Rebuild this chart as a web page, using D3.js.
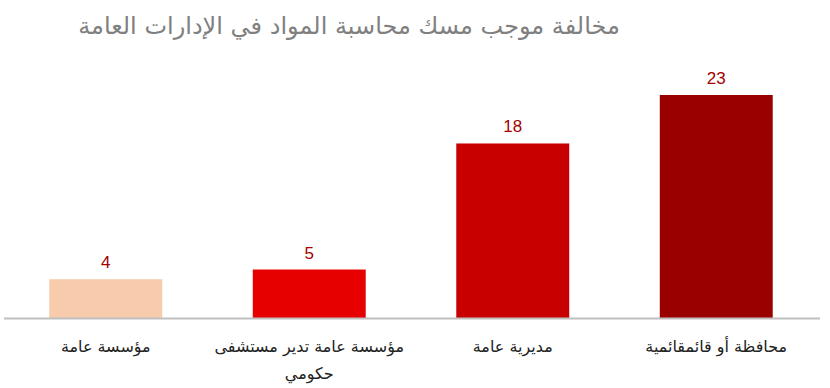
<!DOCTYPE html>
<html>
<head>
<meta charset="utf-8">
<script src="https://cdn.jsdelivr.net/npm/d3@7"></script>
<style>
  body { margin: 0; background: #fff; }
  svg { display: block; }
</style>
</head>
<body>
<svg id="chart" width="830" height="388"></svg>
<script>
let title = "مخالفة موجب مسك محاسبة المواد في الإدارات العامة"
let categories = ["مؤسسة عامة", "مؤسسة عامة تدير مستشفى حكومي", "مديرية عامة", "محافظة أو قائمقائمية"]
let labelLines = [["مؤسسة عامة"], ["مؤسسة عامة تدير مستشفى", "حكومي"], ["مديرية عامة"], ["محافظة أو قائمقائمية"]]
let values = [4, 5, 18, 23]
let colors = ["#F8CBAD", "#E60000", "#C80000", "#9A0000"]

let svg = d3.select("#chart")
let baseY = 318

let x = d3.scaleBand().domain(categories).range([4, 818]).paddingInner(0.445).paddingOuter(0.2225)
let y = d3.scaleLinear().domain([0, 23]).range([baseY, 95])

svg.append("text")
  .attr("x", 349).attr("y", 34)
  .attr("text-anchor", "middle")
  .attr("direction", "rtl")
  .style("font-family", "DejaVu Sans, sans-serif")
  .style("font-size", "24px")
  .style("fill", "#808080")
  .text(title)

let data = categories.map((c, i) => ({ name: c, value: values[i], color: colors[i], lines: labelLines[i] }))

svg.selectAll("rect.bar").data(data).enter().append("rect")
  .attr("class", "bar")
  .attr("x", d => x(d.name))
  .attr("y", d => y(d.value))
  .attr("width", x.bandwidth())
  .attr("height", d => baseY - y(d.value))
  .style("fill", d => d.color)

svg.selectAll("text.val").data(data).enter().append("text")
  .attr("class", "val")
  .attr("x", d => x(d.name) + x.bandwidth() / 2)
  .attr("y", d => y(d.value) - 11)
  .attr("text-anchor", "middle")
  .style("font-family", "Liberation Sans, Arial, sans-serif")
  .style("font-size", "17px")
  .style("fill", "#A50000")
  .text(d => d.value)

svg.append("line")
  .attr("x1", 4).attr("x2", 820)
  .attr("y1", baseY + 0.5).attr("y2", baseY + 0.5)
  .style("stroke", "#BFBFBF").style("stroke-width", 2)

let labels = svg.selectAll("text.cat").data(data).enter().append("text")
  .attr("class", "cat")
  .attr("text-anchor", "middle")
  .attr("direction", "rtl")
  .style("font-family", "DejaVu Sans, sans-serif")
  .style("font-size", "16px")
  .style("fill", "#222")

labels.selectAll("tspan").data(d => d.lines.map(l => ({ l, cx: x(d.name) + x.bandwidth() / 2 }))).enter().append("tspan")
  .attr("x", d => d.cx)
  .attr("y", (d, i) => 352 + i * 27)
  .text(d => d.l)
</script>
</body>
</html>
